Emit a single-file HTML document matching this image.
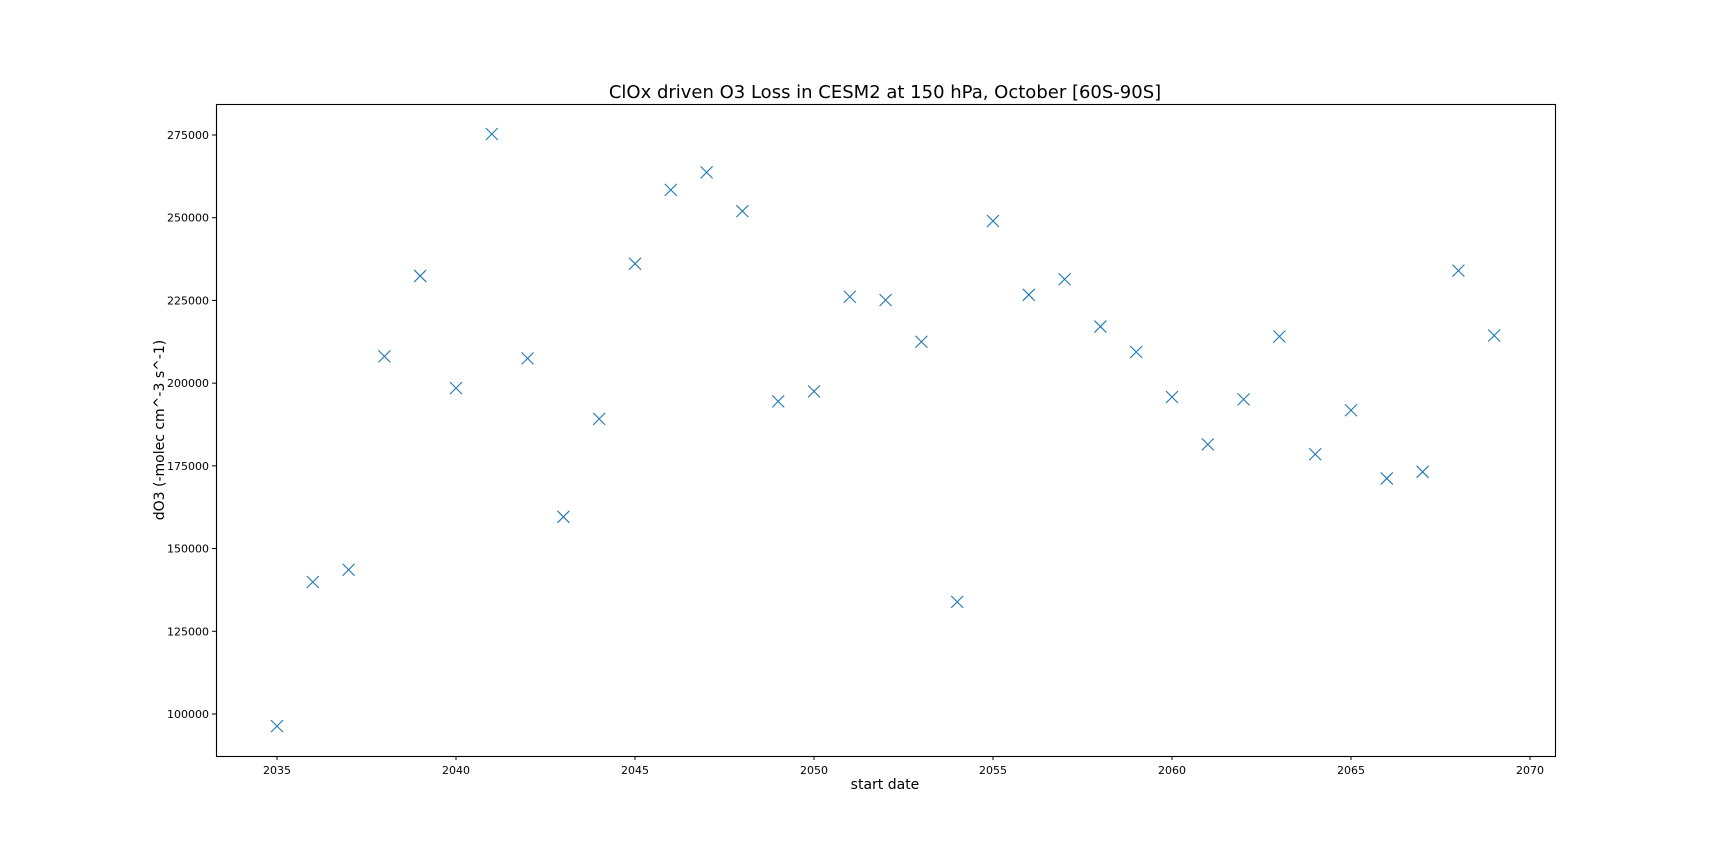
<!DOCTYPE html>
<html><head><meta charset="utf-8"><style>
html,body{margin:0;padding:0;background:#fff;}
svg{display:block;font-family:"DejaVu Sans","Liberation Sans",sans-serif;}
</style></head><body>
<svg id="chart" width="1728" height="864" viewBox="0 0 1728 864">
<text x="885" y="98" text-anchor="middle" font-size="18" fill="#000">ClOx driven O3 Loss in CESM2 at 150 hPa, October [60S-90S]</text>
<g id="xticks"></g>
<g id="yticks"></g>
<g id="marks"></g>
<rect x="216.5" y="104.5" width="1339" height="652" fill="none" stroke="#000" stroke-width="1.1"/>
<text x="885" y="789" text-anchor="middle" font-size="14" fill="#000">start date</text>
<text transform="translate(164,430) rotate(-90)" text-anchor="middle" font-size="14" fill="#000">dO3 (-molec cm^-3 s^-1)</text>
</svg>
<script>
const years=[2035,2036,2037,2038,2039,2040,2041,2042,2043,2044,2045,2046,2047,2048,2049,2050,2051,2052,2053,2054,2055,2056,2057,2058,2059,2060,2061,2062,2063,2064,2065,2066,2067,2068,2069];
const values=[96340,139900,143600,208100,232400,198500,275300,207500,159600,189200,236100,258400,263700,252000,194500,197500,226100,225100,212500,133900,249000,226700,231400,217100,209400,195800,181500,195100,214100,178500,191800,171200,173200,234000,214400];
const xTicks=[2035,2040,2045,2050,2055,2060,2065,2070];
const yTicks=[100000,125000,150000,175000,200000,225000,250000,275000];
const NS='http://www.w3.org/2000/svg';
function xs(v){return 277+(v-2035)*35.8;}
function ys(v){return 714-(v-100000)*(579/175000);}
function mk(tag,attrs,parent){const e=document.createElementNS(NS,tag);for(const k in attrs)e.setAttribute(k,attrs[k]);parent.appendChild(e);return e;}
const gx=document.getElementById('xticks'),gy=document.getElementById('yticks'),gm=document.getElementById('marks');
xTicks.forEach(t=>{const x=xs(t);
 const l=mk('line',{x1:x,x2:x,y1:756,y2:760,stroke:'#000','stroke-width':1},gx);
 
 
 const tx=mk('text',{x:x,y:774,'text-anchor':'middle','font-size':11,fill:'#000'},gx);tx.textContent=t;
 
 
});
yTicks.forEach(t=>{const y=ys(t);
 const l=mk('line',{x1:212,x2:216,y1:y,y2:y,stroke:'#000','stroke-width':1},gy);
 
 
 const tx=mk('text',{x:209,y:y+4,'text-anchor':'end','font-size':11,fill:'#000'},gy);tx.textContent=t;
 
 
});
years.forEach((yr,i)=>{const x=xs(yr),y=ys(values[i]),r=6;
 const p=mk('path',{d:`M${x-r},${y-r}L${x+r},${y+r}M${x-r},${y+r}L${x+r},${y-r}`,stroke:'#1f77b4','stroke-width':1.1,fill:'none'},gm);
 
 
});
</script>
</body></html>
